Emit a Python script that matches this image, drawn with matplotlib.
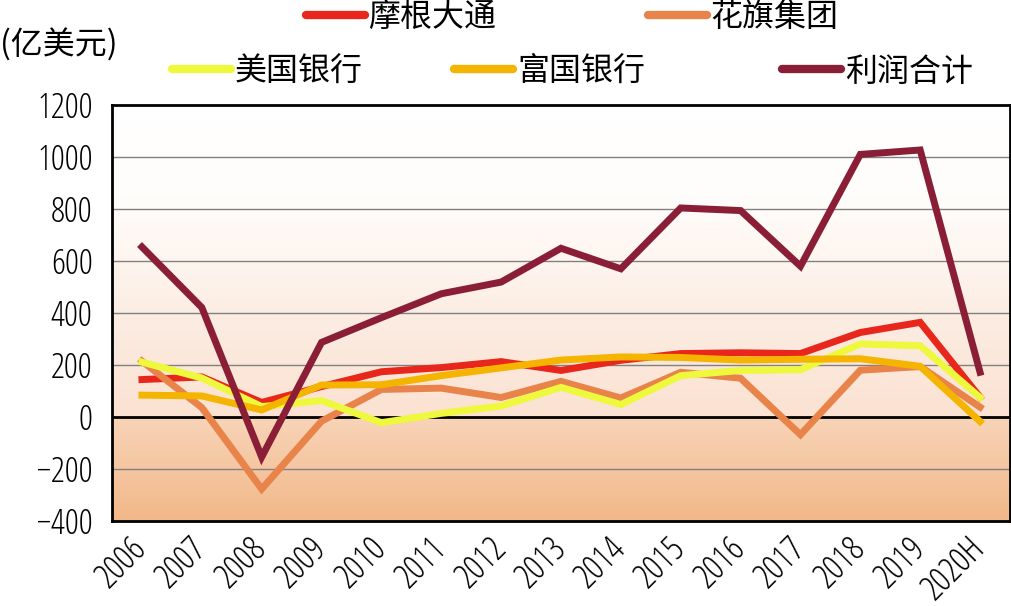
import matplotlib
matplotlib.use("Agg")
import matplotlib.pyplot as plt
import numpy as np
from matplotlib.colors import LinearSegmentedColormap
from matplotlib import font_manager
from matplotlib.font_manager import FontProperties

years = ["2006", "2007", "2008", "2009", "2010", "2011", "2012", "2013",
         "2014", "2015", "2016", "2017", "2018", "2019", "2020H"]
jpm = [144, 154, 56, 117, 174, 190, 213, 179, 218, 244, 247, 244, 325, 364, 76]
citi = [215, 36, -277, -16, 106, 111, 75, 137, 73, 172, 149, -68, 180, 194, 38]
bofa = [211, 150, 40, 63, -22, 14, 42, 114, 48, 159, 179, 182, 281, 274, 75]
wfc = [84, 81, 27, 123, 124, 159, 189, 219, 231, 229, 219, 222, 224, 195, -17]
total = [654, 421, -154, 287, 382, 474, 519, 649, 570, 804, 794, 580, 1010, 1027, 172]

names = ["摩根大通", "花旗集团", "美国银行", "富国银行", "利润合计"]
colors = ["#E8261C", "#E8834A", "#EEF83C", "#F4B400", "#8A1E36"]
yticks = [-400, -200, 0, 200, 400, 600, 800, 1000, 1200]


def num_fp(size):
    for f in font_manager.fontManager.ttflist:
        if f.name == "Open Sans" and f.stretch == "condensed" and f.weight == 300 and f.style == "normal":
            return FontProperties(fname=f.fname, size=size)
    for f in font_manager.fontManager.ttflist:
        if f.name == "Liberation Sans Narrow" and f.weight == 400 and f.style == "normal":
            return FontProperties(fname=f.fname, size=size)
    return FontProperties(family="Liberation Sans", size=size)


cjk = "Noto Sans CJK SC"

fig = plt.figure(figsize=(10.12, 6.06), dpi=100)
ax = fig.add_axes([0.1107, 0.1403, 0.8873, 0.6864])

x = np.arange(len(years))
series = [jpm, citi, bofa, wfc, total]
order = [1, 0, 3, 2, 4]
handles = {}
for i in order:
    ln, = ax.plot(x, series[i], color=colors[i], lw=5, solid_joinstyle="miter", zorder=3 + i)
    handles[i] = ln

ax.set_xlim(-0.5, len(years) - 0.5)
ax.set_ylim(-400, 1200)

# gradient background
cmap = LinearSegmentedColormap.from_list(
    "bg", [(0, "#F2B889"), (0.249, "#F8D4B8"), (0.251, "#FBE2D2"),
           (0.5, "#FCEDE3"), (0.62, "#FEF5EF"), (0.78, "#FFFDFB"), (1, "#FFFFFF")])
grad = np.linspace(0, 1, 512).reshape(-1, 1)
ax.imshow(grad, extent=[-0.5, len(years) - 0.5, -400, 1200], origin="lower",
          aspect="auto", cmap=cmap, zorder=0)

for yv in yticks[1:-1]:
    if yv == 0:
        ax.axhline(0, color="black", lw=2, zorder=2)
    else:
        ax.axhline(yv, color="#808080", lw=1, zorder=1)

for s in ax.spines.values():
    s.set_linewidth(2)
    s.set_color("black")

fp = num_fp(25)
ax.set_yticks(yticks)
ax.set_yticklabels([("\u2212" + str(-v)) if v < 0 else str(v) for v in yticks],
                   fontproperties=fp)
ax.set_xticks(x)
ax.set_xticklabels(years, rotation=45, ha="right", va="center", rotation_mode="anchor",
                   fontproperties=fp)
ax.tick_params(length=0)
ax.tick_params(axis="y", pad=14)
ax.tick_params(axis="x", pad=16)

fig.text(0.0, 0.925, "(亿美元)", fontfamily=[cjk, "DejaVu Sans"], fontsize=23,
         fontweight="light", ha="left", va="center")

legend_pos = {0: (0.302, 0.972), 1: (0.640, 0.972), 2: (0.170, 0.882),
              3: (0.449, 0.882), 4: (0.773, 0.882)}
for i in range(5):
    lg = fig.legend([handles[i]], [names[i]], loc="center left",
                    bbox_to_anchor=legend_pos[i], frameon=False,
                    prop={"family": cjk, "size": 23, "weight": "light"},
                    handlelength=1.85, handletextpad=0.12, borderaxespad=0, borderpad=0)
    for h in lg.legend_handles:
        h.set_linewidth(6)
        h.set_solid_capstyle("round")

fig.savefig("out.png", dpi=100)
